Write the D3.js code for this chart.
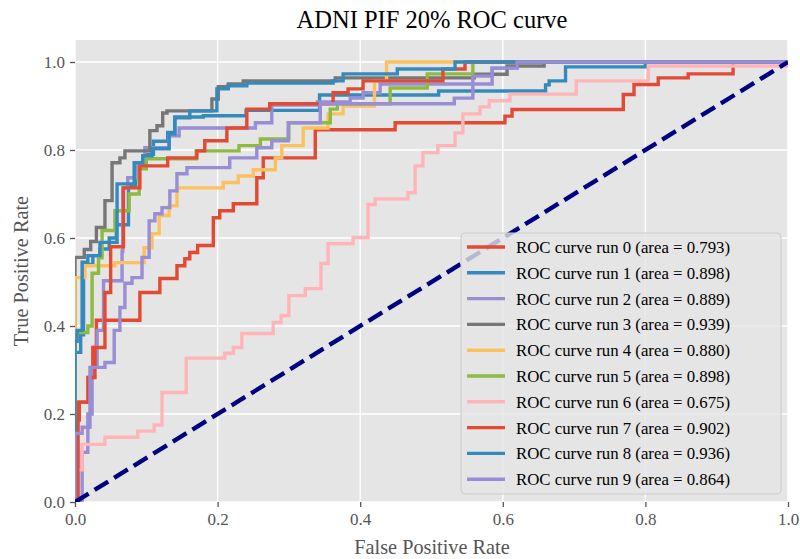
<!DOCTYPE html>
<html><head><meta charset="utf-8">
<script src="https://cdn.jsdelivr.net/npm/d3@7"></script>
<style>body{margin:0;background:#fff}svg{display:block}text{font-family:"Liberation Serif","Times New Roman",serif}</style>
</head><body><svg id="c" width="800" height="559"></svg>
<script>
const fpr0=[0,0.004,0.018,0.025,0.03,0.091,0.119,0.143,0.154,0.161,0.172,0.194,0.203,0.222,0.255,0.264,0.337,0.449,0.603,0.613,0.769,0.784,0.818,0.860,0.923,1];
const tpr0=[0,0.227,0.283,0.351,0.413,0.476,0.508,0.537,0.553,0.567,0.583,0.646,0.662,0.678,0.737,0.782,0.846,0.862,0.877,0.892,0.926,0.949,0.964,0.973,1.0,1];
const fpr1=[0,0,0.008,0.012,0.025,0.035,0.048,0.058,0.075,0.085,0.10,0.11,0.13,0.14,0.18,0.24,0.343,0.51,0.66,0.665,0.688,0.80,1];
const tpr1=[0,0.34,0.38,0.54,0.56,0.575,0.60,0.63,0.72,0.77,0.79,0.82,0.84,0.875,0.878,0.89,0.925,0.934,0.948,0.957,0.989,1.0,1];
const fpr2=[0,0.01,0.018,0.024,0.031,0.04,0.066,0.067,0.074,0.087,0.098,0.132,0.146,0.253,0.276,0.34,0.386,0.404,0.428,0.585,0.62,1];
const tpr2=[0,0.113,0.20,0.306,0.39,0.503,0.57,0.714,0.737,0.768,0.805,0.832,0.85,0.862,0.902,0.909,0.918,0.93,0.95,0.986,1.0,1];
const fpr3=[0,0,0.013,0.022,0.03,0.042,0.052,0.063,0.070,0.105,0.115,0.123,0.129,0.192,0.201,0.215,0.236,0.365,0.56,0.606,0.658,1];
const tpr3=[0,0.556,0.574,0.592,0.624,0.685,0.771,0.782,0.798,0.844,0.855,0.884,0.889,0.916,0.944,0.950,0.957,0.964,0.972,0.991,1.0,1];
const fpr4=[0,0,0.014,0.056,0.097,0.108,0.118,0.132,0.143,0.208,0.229,0.250,0.281,0.290,0.32,0.355,0.376,0.42,0.437,1];
const tpr4=[0,0.51,0.537,0.544,0.578,0.61,0.651,0.673,0.714,0.726,0.741,0.755,0.782,0.81,0.85,0.882,0.90,0.957,1.0,1];
const fpr5=[0,0,0.018,0.024,0.033,0.038,0.056,0.076,0.09,0.10,0.17,0.23,0.26,0.30,0.358,0.368,0.442,0.494,0.558,1];
const tpr5=[0,0.385,0.40,0.52,0.555,0.617,0.662,0.70,0.757,0.78,0.798,0.81,0.825,0.862,0.893,0.905,0.941,0.973,1.0,1];
const fpr6=[0,0,0.010,0.042,0.088,0.111,0.122,0.156,0.210,0.222,0.234,0.278,0.289,0.300,0.323,0.345,0.355,0.390,0.411,0.421,0.467,0.477,0.488,0.509,0.533,0.544,0.568,0.581,0.610,0.703,0.804,1];
const tpr6=[0,0.073,0.131,0.147,0.161,0.175,0.249,0.327,0.338,0.351,0.383,0.408,0.424,0.469,0.485,0.542,0.587,0.601,0.676,0.689,0.703,0.764,0.794,0.810,0.839,0.882,0.898,0.912,0.927,0.957,0.991,1];
const fpr7=[0,0.004,0.006,0.02,0.028,0.042,0.05,0.068,0.091,0.130,0.171,0.182,0.213,0.241,0.273,0.362,0.383,0.404,0.516,0.547,1];
const tpr7=[0,0.186,0.227,0.283,0.351,0.476,0.58,0.714,0.764,0.782,0.798,0.821,0.850,0.893,0.905,0.930,0.939,0.957,0.984,1.0,1];
const fpr8=[0,0,0.003,0.010,0.018,0.035,0.059,0.083,0.095,0.108,0.132,0.140,0.161,0.199,0.215,0.241,0.362,0.376,0.452,0.533,1];
const tpr8=[0,0.365,0.39,0.545,0.56,0.59,0.723,0.771,0.787,0.803,0.837,0.873,0.889,0.939,0.946,0.952,0.957,0.973,0.984,1.0,1];
const fpr9=[0,0,0.01,0.021,0.042,0.055,0.063,0.07,0.08,0.094,0.104,0.112,0.122,0.133,0.143,0.157,0.217,0.255,0.276,0.299,0.344,0.532,0.558,0.585,0.62,1];
const tpr9=[0,0.156,0.17,0.306,0.317,0.39,0.442,0.497,0.51,0.556,0.639,0.655,0.669,0.707,0.746,0.760,0.782,0.805,0.821,0.862,0.905,0.918,0.968,0.986,1.0,1];
const aucs=["0.793","0.898","0.889","0.939","0.880","0.898","0.675","0.902","0.936","0.864"];
const colors=["#E24A33","#348ABD","#988ED5","#777777","#FBC15E","#8EBA42","#FFB5B8","#E24A33","#348ABD","#988ED5"];
const ticks=[0,0.2,0.4,0.6,0.8,1.0];
const fprs=[fpr0,fpr1,fpr2,fpr3,fpr4,fpr5,fpr6,fpr7,fpr8,fpr9];
const tprs=[tpr0,tpr1,tpr2,tpr3,tpr4,tpr5,tpr6,tpr7,tpr8,tpr9];

const svg=d3.select("#c");
const L=75,R=788,T=40,B=502;
const x=d3.scaleLinear().domain([0,1]).range([L,R]);
const y=d3.scaleLinear().domain([0,1.05]).range([B,T]);

svg.append("rect").attr("x",L).attr("y",T).attr("width",R-L).attr("height",B-T).attr("fill","#E5E5E5");
svg.append("defs").append("clipPath").attr("id","clip").append("rect").attr("x",L).attr("y",T).attr("width",R-L).attr("height",B-T);

const g=svg.append("g");
g.selectAll(".gx").data(ticks).join("line").attr("x1",d=>x(d)).attr("x2",d=>x(d)).attr("y1",T).attr("y2",B).attr("stroke","#fff").attr("stroke-width",1.4);
g.selectAll(".gy").data(ticks).join("line").attr("y1",d=>y(d)).attr("y2",d=>y(d)).attr("x1",L).attr("x2",R).attr("stroke","#fff").attr("stroke-width",1.4);

const xa=svg.append("g").attr("transform",`translate(0,${B})`).call(d3.axisBottom(x).tickValues(ticks).tickFormat(d3.format(".1f")).tickSize(5).tickPadding(6));
const ya=svg.append("g").attr("transform",`translate(${L},0)`).call(d3.axisLeft(y).tickValues(ticks).tickFormat(d3.format(".1f")).tickSize(5).tickPadding(5));
[xa,ya].forEach(a=>{a.select(".domain").remove();a.selectAll(".tick line").attr("stroke","#555").attr("stroke-width",1.3);a.selectAll(".tick text").attr("fill","#555").attr("font-size",17).attr("font-family","Liberation Serif");});

const lines=svg.append("g").attr("clip-path","url(#clip)");
const lineGen=d3.line().x(d=>x(d[0])).y(d=>y(d[1])).curve(d3.curveStepAfter);
fprs.forEach((f,i)=>{
  const pts=f.map((v,j)=>[v,tprs[i][j]]);
  lines.append("path").attr("d",lineGen(pts)).attr("fill","none").attr("stroke",colors[i]).attr("stroke-width",3.4).attr("stroke-linejoin","miter");
});
lines.append("line").attr("x1",x(0)).attr("y1",y(0)).attr("x2",x(1)).attr("y2",y(1)).attr("stroke","#000080").attr("stroke-width",4.4).attr("stroke-dasharray","16,7");

svg.append("text").attr("x",432).attr("y",28).attr("text-anchor","middle").attr("font-size",24.5).attr("fill","#000").text("ADNI PIF 20% ROC curve");
svg.append("text").attr("x",432).attr("y",554).attr("text-anchor","middle").attr("font-size",20.3).attr("fill","#555").text("False Positive Rate");
svg.append("text").attr("transform","translate(28,271) rotate(-90)").attr("text-anchor","middle").attr("font-size",20.3).attr("fill","#555").text("True Positive Rate");

const lg=svg.append("g");
lg.append("rect").attr("x",461).attr("y",233).attr("width",320).attr("height",261).attr("rx",4).attr("fill","#E5E5E5").attr("fill-opacity",0.8).attr("stroke","#CCCCCC").attr("stroke-width",1);
aucs.forEach((a,i)=>{
  const yy=247+i*25.8;
  lg.append("line").attr("x1",467).attr("x2",505).attr("y1",yy).attr("y2",yy).attr("stroke",colors[i]).attr("stroke-width",3.4);
  lg.append("text").attr("x",516).attr("y",yy+6).attr("font-size",16.8).attr("fill","#000").text(`ROC curve run ${i} (area = ${a})`);
});
</script></body></html>
